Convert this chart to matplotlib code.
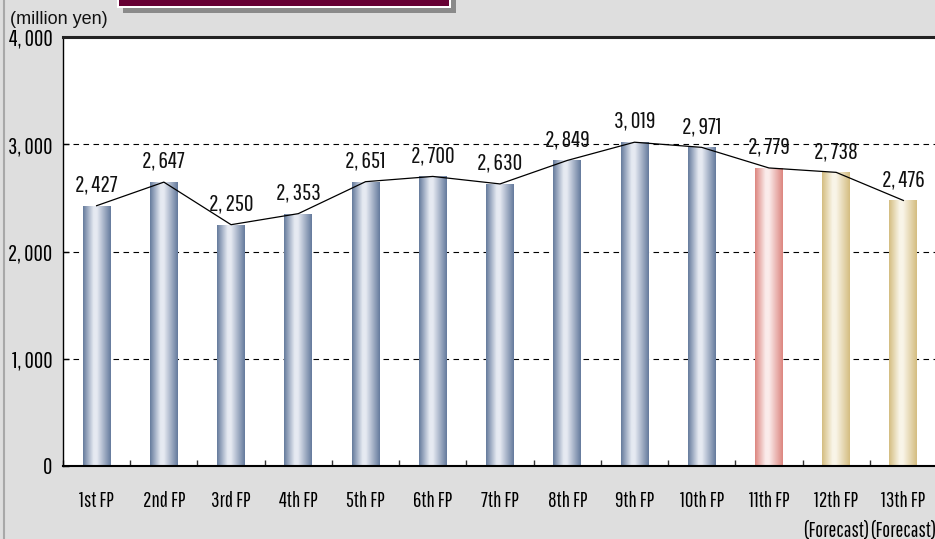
import numpy as np
import matplotlib
matplotlib.use("Agg")
import matplotlib.pyplot as plt
from matplotlib.patches import Rectangle
from matplotlib.lines import Line2D
from matplotlib.colors import LinearSegmentedColormap
from matplotlib.ticker import FuncFormatter, MultipleLocator

periods = ["1st FP", "2nd FP", "3rd FP", "4th FP", "5th FP", "6th FP", "7th FP",
           "8th FP", "9th FP", "10th FP", "11th FP", "12th FP\n(Forecast)", "13th FP\n(Forecast)"]
values = [2427, 2647, 2250, 2353, 2651, 2700, 2630, 2849, 3019, 2971, 2779, 2738, 2476]
kinds = ["actual"] * 10 + ["latest"] + ["forecast"] * 2

gradients = {
    "actual": ("#647a9c", "#e6eaf2"),
    "latest": ("#dc857f", "#fbeceb"),
    "forecast": ("#d4bd80", "#f9f5e8"),
}

narrow = ["Pathway Gothic One", "Roboto Condensed", "DejaVu Sans"]

W, H = 935, 539
fig = plt.figure(figsize=(W / 100, H / 100), dpi=100)
fig.patch.set_facecolor("#dedede")

# plot area (runs slightly past the right edge)
left, right, top, bottom = 63, 937, 37, 466
ax = fig.add_axes([left / W, 1 - bottom / H, (right - left) / W, (bottom - top) / H])
ax.set_facecolor("white")

x = np.arange(len(values))
bars = ax.bar(x, values, width=0.415, color="none", edgecolor="none", zorder=2)

# horizontal gradient fill for each bar
for patch, kind in zip(bars, kinds):
    edge, mid = gradients[kind]
    cmap = LinearSegmentedColormap.from_list(
        kind, [(0, edge), (0.38, mid), (0.5, mid), (1, edge)], N=256)
    grad = np.linspace(0, 1, 256).reshape(1, -1)
    bx, by = patch.get_x(), patch.get_y()
    bw, bh = patch.get_width(), patch.get_height()
    im = ax.imshow(grad, cmap=cmap, extent=[bx, bx + bw, by, by + bh],
                   aspect="auto", origin="lower", zorder=2, interpolation="bilinear")
    im.set_clip_path(patch)

ax.plot(x, values, color="black", lw=0.9, zorder=3)

for xi, v in zip(x, values):
    ax.annotate(f"{v:,}".replace(",", ", "), (xi, v), xytext=(0, 10.5),
                textcoords="offset points", ha="center", va="baseline",
                fontsize=17, family=narrow, color="#111111", zorder=4)

ax.set_xlim(-0.5, len(values) - 0.5)
ax.set_ylim(0, 4000)
ax.yaxis.set_major_locator(MultipleLocator(1000))
ax.yaxis.set_major_formatter(FuncFormatter(lambda v, p: f"{int(v):,}".replace(",", ", ")))
ax.grid(axis="y", color="black", linestyle=(0, (5, 4)), lw=0.8, zorder=1)
ax.set_axisbelow(True)

ax.set_xticks(x)
ax.set_xticklabels(periods, family=narrow, fontsize=15, linespacing=1.6)
ax.set_xticks(np.arange(len(values) + 1) - 0.5, minor=True)
ax.tick_params(axis="x", which="major", length=0, pad=18)
ax.tick_params(axis="x", which="minor", direction="in", length=4, width=1, color="#333333")
ax.tick_params(axis="y", direction="in", length=4, width=1, pad=7.5)
for lab in ax.get_yticklabels():
    lab.set_family(narrow)
    lab.set_fontsize(16.5)

ax.spines["left"].set_linewidth(1.0)
ax.spines["bottom"].set_linewidth(1.5)
ax.spines["top"].set_linewidth(2.2)
ax.spines["top"].set_color("#222222")
ax.spines["right"].set_visible(False)

fig.text(10 / W, 1 - 19 / H, "(million yen)", fontsize=13, family="Liberation Sans",
         va="center", ha="left", color="#111111")

# title banner at the top (mostly off-canvas)
fig.add_artist(Rectangle((123 / W, 1 - 12.5 / H), 333 / W, 30 / H, transform=fig.transFigure,
                         facecolor="#8a8a8a", edgecolor="none", zorder=5))
fig.add_artist(Rectangle((117 / W, 1 - 7.5 / H), 334 / W, 30 / H, transform=fig.transFigure,
                         facecolor="#ffffff", edgecolor="none", zorder=6))
fig.add_artist(Rectangle((119 / W, 1 - 6 / H), 330 / W, 30 / H, transform=fig.transFigure,
                         facecolor="#660033", edgecolor="none", zorder=7))

# frame line on the left edge
fig.add_artist(Line2D([4 / W, 4 / W], [0, 1], transform=fig.transFigure,
                      color="#a8a8a8", lw=1.5))

fig.savefig("out.png", dpi=100, facecolor=fig.get_facecolor())
